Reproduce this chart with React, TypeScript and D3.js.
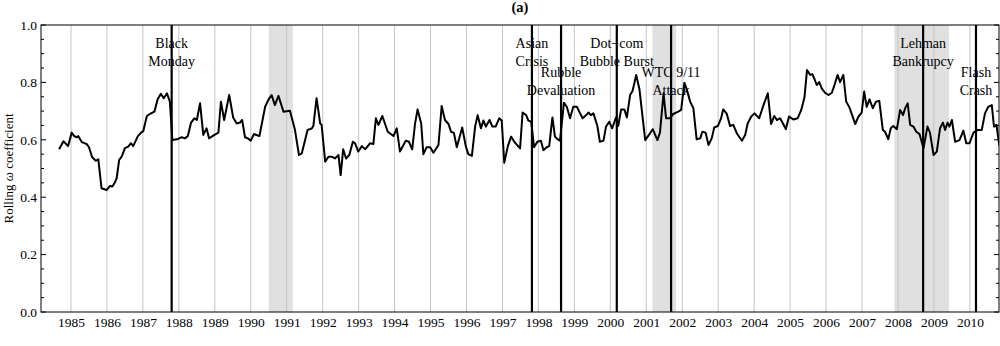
import { useEffect, useRef } from "react";
import * as d3 from "d3";

// rolling omega coefficient (decimal year, value)
const dates = [
  1984.67, 1984.79, 1984.92, 1985.02, 1985.09, 1985.16, 1985.2, 1985.3, 1985.44, 1985.5,
  1985.59, 1985.69, 1985.76, 1985.85, 1985.99, 1986.08, 1986.15, 1986.22, 1986.27, 1986.34,
  1986.41, 1986.5, 1986.59, 1986.67, 1986.73, 1986.86, 1986.95, 1987.01, 1987.11, 1987.2,
  1987.32, 1987.41, 1987.5, 1987.58, 1987.67, 1987.75, 1987.82, 1987.98, 1988.08, 1988.17,
  1988.25, 1988.34, 1988.43, 1988.5, 1988.59, 1988.68, 1988.77, 1988.84, 1988.99, 1989.1,
  1989.17, 1989.26, 1989.4, 1989.51, 1989.61, 1989.7, 1989.76, 1989.84, 1989.92, 1990.0,
  1990.09, 1990.24, 1990.4, 1990.49, 1990.58, 1990.67, 1990.77, 1990.91, 1991.09, 1991.23,
  1991.34, 1991.42, 1991.58, 1991.7, 1991.74, 1991.83, 1991.93, 1991.97, 1992.07, 1992.16,
  1992.25, 1992.34, 1992.44, 1992.5, 1992.57, 1992.65, 1992.74, 1992.84, 1992.9, 1992.99,
  1993.09, 1993.18, 1993.32, 1993.41, 1993.48, 1993.55, 1993.66, 1993.81, 1993.97, 1994.06,
  1994.15, 1994.31, 1994.4, 1994.49, 1994.57, 1994.64, 1994.74, 1994.8, 1994.89, 1994.99,
  1995.08, 1995.22, 1995.31, 1995.4, 1995.5, 1995.57, 1995.65, 1995.73, 1995.88, 1995.98,
  1996.05, 1996.15, 1996.24, 1996.31, 1996.4, 1996.47, 1996.54, 1996.64, 1996.72, 1996.81,
  1996.91, 1996.98, 1997.05, 1997.15, 1997.24, 1997.33, 1997.49, 1997.56, 1997.66, 1997.72,
  1997.8, 1997.88, 1997.97, 1998.07, 1998.14, 1998.23, 1998.3, 1998.39, 1998.46, 1998.53,
  1998.6, 1998.71, 1998.79, 1998.88, 1998.97, 1999.07, 1999.16, 1999.23, 1999.33, 1999.39,
  1999.46, 1999.53, 1999.64, 1999.71, 1999.81, 1999.88, 1999.97, 2000.05, 2000.16, 2000.22,
  2000.3, 2000.39, 2000.46, 2000.55, 2000.62, 2000.72, 2000.81, 2000.97, 2001.09, 2001.18,
  2001.31, 2001.38, 2001.48, 2001.55, 2001.66, 2001.75, 2001.89, 2001.97, 2002.06, 2002.13,
  2002.22, 2002.31, 2002.4, 2002.5, 2002.56, 2002.65, 2002.73, 2002.82, 2002.89, 2002.99,
  2003.08, 2003.14, 2003.24, 2003.33, 2003.42, 2003.52, 2003.66, 2003.75, 2003.82, 2003.92,
  2004.01, 2004.14, 2004.26, 2004.38, 2004.47, 2004.56, 2004.63, 2004.72, 2004.81, 2004.88,
  2004.97, 2005.09, 2005.21, 2005.31, 2005.4, 2005.47, 2005.56, 2005.62, 2005.68, 2005.74,
  2005.81, 2005.88, 2005.97, 2006.07, 2006.16, 2006.22, 2006.32, 2006.39, 2006.48, 2006.56,
  2006.65, 2006.74, 2006.81, 2006.9, 2006.99, 2007.06, 2007.13, 2007.21, 2007.3, 2007.39,
  2007.48, 2007.58, 2007.64, 2007.73, 2007.8, 2007.87, 2007.97, 2008.06, 2008.14, 2008.2,
  2008.27, 2008.34, 2008.43, 2008.51, 2008.6, 2008.71, 2008.82, 2008.89, 2008.99, 2009.08,
  2009.17, 2009.25, 2009.31, 2009.38, 2009.43, 2009.5, 2009.59, 2009.71, 2009.82, 2009.9,
  2009.99, 2010.1, 2010.21, 2010.33, 2010.42, 2010.51, 2010.61, 2010.67, 2010.74, 2010.79,
  2010.82,
];
const omega = [
  0.567, 0.595, 0.578, 0.625, 0.613, 0.609, 0.613, 0.592, 0.585, 0.574,
  0.539, 0.527, 0.532, 0.431, 0.425, 0.439, 0.437, 0.451, 0.466, 0.53,
  0.541, 0.571, 0.576, 0.588, 0.578, 0.613, 0.625, 0.63, 0.683, 0.69,
  0.698, 0.741, 0.76, 0.745, 0.762, 0.733, 0.599, 0.603, 0.609, 0.605,
  0.613, 0.66, 0.675, 0.669, 0.727, 0.617, 0.64, 0.605, 0.617, 0.625,
  0.733, 0.669, 0.756, 0.678, 0.657, 0.66, 0.669, 0.609, 0.605, 0.597,
  0.62, 0.613, 0.715, 0.739, 0.756, 0.721, 0.753, 0.698, 0.701, 0.634,
  0.547, 0.553, 0.634, 0.64, 0.648, 0.745, 0.657, 0.652, 0.524, 0.541,
  0.541, 0.535, 0.547, 0.477, 0.567, 0.535, 0.547, 0.593, 0.588, 0.559,
  0.578, 0.567, 0.588, 0.585, 0.675, 0.652, 0.683, 0.628, 0.613, 0.64,
  0.559, 0.597, 0.593, 0.567, 0.657, 0.706, 0.657, 0.55, 0.574, 0.574,
  0.555, 0.582, 0.718, 0.669, 0.655, 0.628, 0.624, 0.574, 0.643, 0.578,
  0.55, 0.544, 0.646, 0.686, 0.64, 0.667, 0.646, 0.669, 0.646, 0.646,
  0.675, 0.667, 0.52, 0.578, 0.611, 0.593, 0.57, 0.695, 0.686, 0.667,
  0.663, 0.574, 0.593, 0.597, 0.564, 0.574, 0.578, 0.678, 0.611, 0.602,
  0.597, 0.729, 0.715, 0.675, 0.715, 0.715, 0.692, 0.675, 0.686, 0.695,
  0.686, 0.692, 0.648, 0.593, 0.597, 0.646, 0.663, 0.64, 0.678, 0.648,
  0.706, 0.706, 0.678, 0.756, 0.771, 0.826, 0.776, 0.599, 0.62, 0.637,
  0.599, 0.625, 0.762, 0.675, 0.675, 0.69, 0.698, 0.704, 0.799, 0.774,
  0.733, 0.71, 0.602, 0.605, 0.628, 0.625, 0.582, 0.605, 0.643, 0.648,
  0.675, 0.706, 0.69, 0.648, 0.652, 0.622, 0.597, 0.617, 0.657, 0.681,
  0.692, 0.675, 0.721, 0.762, 0.655, 0.683, 0.669, 0.675, 0.655, 0.637,
  0.681, 0.671, 0.675, 0.704, 0.748, 0.843, 0.826, 0.829, 0.811, 0.791,
  0.801, 0.779, 0.764, 0.756, 0.764, 0.785, 0.826, 0.801, 0.826, 0.733,
  0.713, 0.681, 0.655, 0.681, 0.695, 0.768, 0.715, 0.741, 0.71, 0.733,
  0.736, 0.634, 0.628, 0.602, 0.64, 0.648, 0.637, 0.704, 0.686, 0.71,
  0.727, 0.652, 0.646, 0.628, 0.62, 0.57, 0.646, 0.625, 0.547, 0.559,
  0.64, 0.66, 0.634, 0.66, 0.646, 0.669, 0.593, 0.599, 0.632, 0.588,
  0.588, 0.625, 0.634, 0.634, 0.692, 0.715, 0.721, 0.646, 0.652, 0.605,
  0.58,
];

// NBER recessions (shaded)
const recessionStart = [1990.5, 2001.17, 2007.9];
const recessionEnd = [1991.17, 2001.83, 2009.42];

// market events
const eventNames = [
  ["Black", "Monday"],
  ["Asian", "Crisis"],
  ["Rubble", "Devaluation"],
  ["Dot\u2212com", "Bubble Burst"],
  ["WTC 9/11", "Attack"],
  ["Lehman", "Bankrupcy"],
  ["Flash", "Crash"],
];
const eventDates = [1987.8, 1997.82, 1998.63, 2000.18, 2001.69, 2008.7, 2010.17];
const eventRow = [0, 0, 1, 0, 1, 0, 1];

const yearTicks = d3.range(1985, 2011);
const yTicks = [0, 0.2, 0.4, 0.6, 0.8, 1.0];

const W = 1000;
const H = 346;
const m = { left: 41, right: 1, top: 25, bot: 34 };
const serif = "'Liberation Serif', 'Times New Roman', serif";

export default function App() {
  const ref = useRef<SVGSVGElement>(null);

  useEffect(() => {
    const svg = d3.select(ref.current);
    svg.selectAll("*").remove();

    const x0 = m.left;
    const x1 = W - m.right;
    const y0 = H - m.bot;
    const y1 = m.top;

    const x = d3.scaleLinear().domain([1984.166, 2010.81]).range([x0, x1]);
    const y = d3.scaleLinear().domain([0, 1]).range([y0, y1]);

    svg
      .append("defs")
      .append("clipPath")
      .attr("id", "plot-clip")
      .append("rect")
      .attr("x", x0)
      .attr("y", y1)
      .attr("width", x1 - x0)
      .attr("height", y0 - y1);

    // recession shading
    svg
      .append("g")
      .selectAll("rect")
      .data(recessionStart)
      .join("rect")
      .attr("x", (d) => x(d))
      .attr("y", y1)
      .attr("width", (d, i) => x(recessionEnd[i]) - x(d))
      .attr("height", y0 - y1)
      .attr("fill", "#e0e0e0");

    // year gridlines
    svg
      .append("g")
      .selectAll("line")
      .data(yearTicks)
      .join("line")
      .attr("x1", (d) => x(d))
      .attr("x2", (d) => x(d))
      .attr("y1", y1)
      .attr("y2", y0)
      .attr("stroke", "#c4c4c4")
      .attr("stroke-width", 1);

    // the series
    const line = d3
      .line<number>()
      .x((d, i) => x(dates[i]))
      .y((d) => y(d));
    svg
      .append("path")
      .datum(omega)
      .attr("clip-path", "url(#plot-clip)")
      .attr("d", line)
      .attr("fill", "none")
      .attr("stroke", "#000")
      .attr("stroke-width", 2)
      .attr("stroke-linejoin", "round");

    // event lines
    svg
      .append("g")
      .selectAll("line")
      .data(eventDates)
      .join("line")
      .attr("x1", (d) => x(d))
      .attr("x2", (d) => x(d))
      .attr("y1", y1)
      .attr("y2", y0)
      .attr("stroke", "#000")
      .attr("stroke-width", 2.2);

    // event labels
    const labels = svg
      .append("g")
      .attr("font-family", serif)
      .attr("font-size", 14)
      .attr("text-anchor", "middle")
      .attr("fill", "#000");
    eventNames.forEach((lines, i) => {
      const base = eventRow[i] === 0 ? 47.5 : 76.5;
      lines.forEach((t, j) => {
        labels
          .append("text")
          .attr("x", x(eventDates[i]))
          .attr("y", base + j * 18)
          .text(t);
      });
    });

    // frame
    svg
      .append("rect")
      .attr("x", x0)
      .attr("y", y1)
      .attr("width", x1 - x0)
      .attr("height", y0 - y1)
      .attr("fill", "none")
      .attr("stroke", "#000")
      .attr("stroke-width", 1);

    // y ticks, both sides, inward
    const allTicks = d3.range(0, 21).map((k) => k * 0.05);
    const tk = svg.append("g").attr("stroke", "#000").attr("stroke-width", 1);
    allTicks.forEach((v, k) => {
      const len = k % 4 === 0 ? 5 : 3;
      tk.append("line").attr("x1", x0).attr("x2", x0 + len).attr("y1", y(v)).attr("y2", y(v));
      tk.append("line").attr("x1", x1).attr("x2", x1 - len).attr("y1", y(v)).attr("y2", y(v));
    });

    svg
      .append("g")
      .attr("font-family", serif)
      .attr("font-size", 13.5)
      .attr("text-anchor", "end")
      .selectAll("text")
      .data(yTicks)
      .join("text")
      .attr("x", x0 - 4)
      .attr("y", (d) => y(d))
      .attr("dy", "0.35em")
      .text((d) => d3.format(".1f")(d));

    svg
      .append("g")
      .attr("font-family", serif)
      .attr("font-size", 13.5)
      .attr("text-anchor", "middle")
      .selectAll("text")
      .data(yearTicks)
      .join("text")
      .attr("x", (d) => x(d) + 0.5)
      .attr("y", y0 + 14.5)
      .text((d) => d);

    // axis title
    const yt = svg
      .append("text")
      .attr("transform", `translate(12.5, ${(y0 + y1) / 2}) rotate(-90)`)
      .attr("font-family", serif)
      .attr("font-size", 13)
      .attr("text-anchor", "middle");
    yt.append("tspan").text("Rolling ");
    yt.append("tspan").attr("font-style", "italic").text("\u03c9");
    yt.append("tspan").text(" coefficient");

    // panel title
    svg
      .append("text")
      .attr("x", (x0 + x1) / 2)
      .attr("y", 11.5)
      .attr("font-family", serif)
      .attr("font-size", 14.5)
      .attr("font-weight", "bold")
      .attr("text-anchor", "middle")
      .text("(a)");
  }, []);

  return (
    <svg
      ref={ref}
      width={W}
      height={H}
      style={{ position: "absolute", left: 0, top: 0, background: "#fff" }}
    />
  );
}
